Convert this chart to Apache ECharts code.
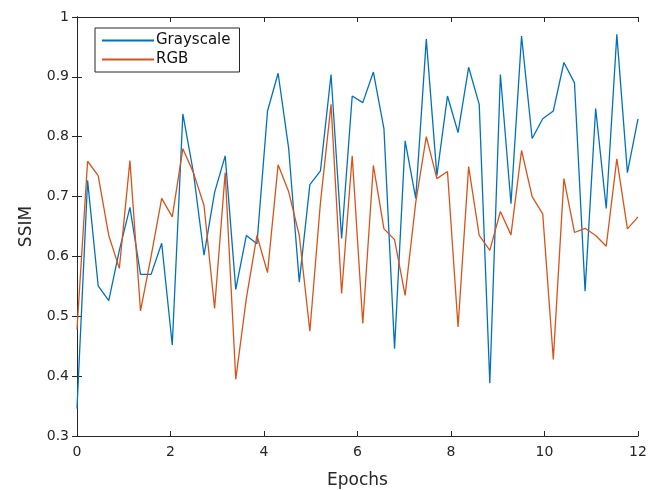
<!DOCTYPE html>
<html>
<head>
<meta charset="utf-8">
<script src="https://cdn.jsdelivr.net/npm/echarts@6/dist/echarts.min.js"></script>
<style>
  html, body { margin: 0; padding: 0; background: #fff; }
  #main { width: 648px; height: 490px; }
</style>
</head>
<body>
<div id="main"></div>
<script>
// 54 samples spread over 12 epochs
var nPoints = 54;
var lastEpoch = 12;

var grayscale = [
    0.346, 0.727, 0.551, 0.526, 0.61, 0.682, 0.57, 0.57, 0.622, 0.452,
    0.838, 0.74, 0.602, 0.707, 0.768, 0.545, 0.635, 0.621, 0.843, 0.906,
    0.78, 0.557, 0.72, 0.743, 0.904, 0.63, 0.868, 0.857, 0.908, 0.813,
    0.446, 0.793, 0.697, 0.963, 0.735, 0.868, 0.807, 0.916, 0.854, 0.388,
    0.904, 0.688, 0.968, 0.797, 0.83, 0.843, 0.924, 0.89, 0.542, 0.847,
    0.68, 0.971, 0.74, 0.83
];
var rgb = [
    0.478, 0.759, 0.735, 0.635, 0.58, 0.76, 0.509, 0.6, 0.697, 0.666,
    0.78, 0.74, 0.685, 0.513, 0.74, 0.395, 0.53, 0.635, 0.573, 0.753,
    0.708, 0.635, 0.475, 0.69, 0.854, 0.538, 0.768, 0.488, 0.752, 0.646,
    0.628, 0.535, 0.69, 0.80, 0.73, 0.742, 0.482, 0.75, 0.635, 0.61,
    0.675, 0.636, 0.777, 0.70, 0.671, 0.428, 0.73, 0.64, 0.647, 0.635,
    0.617, 0.763, 0.646, 0.666
];

var epochs = [];
for (var i = 0; i < nPoints; i++) {
    epochs.push(i * lastEpoch / (nPoints - 1));
}

function pairs(vals) {
    return vals.map(function (v, i) { return [epochs[i], v]; });
}

var axisColor = '#262626';
var font = 'DejaVu Sans';

var myChart = echarts.init(document.getElementById('main'));
var option = {
    animation: false,
    backgroundColor: '#fff',
    textStyle: { fontFamily: font },
    grid: { left: 77, right: 10, top: 17, bottom: 54, outerBoundsMode: 'none' },
    legend: {
        orient: 'vertical',
        left: 95,
        top: 28,
        padding: [5, 9, 5, 7],
        itemGap: 4,
        itemWidth: 52,
        itemHeight: 2,
        icon: 'rect',
        borderColor: axisColor,
        borderWidth: 1,
        backgroundColor: '#fff',
        textStyle: { fontSize: 15, color: '#111', padding: [0, 0, 0, -3] },
        data: ['Grayscale', 'RGB']
    },
    xAxis: [{
        type: 'value',
        min: 0, max: 12, interval: 2,
        name: 'Epochs',
        nameLocation: 'middle',
        nameGap: 36,
        nameTextStyle: { fontSize: 17, color: axisColor },
        axisLine: { lineStyle: { color: axisColor, width: 1 } },
        axisTick: { inside: true, length: 5, lineStyle: { color: axisColor } },
        axisLabel: { fontSize: 14, color: axisColor, margin: 9 },
        splitLine: { show: false }
    }, {
        type: 'value',
        position: 'top',
        min: 0, max: 12, interval: 2,
        axisLine: { show: true, lineStyle: { color: axisColor, width: 1 } },
        axisTick: { inside: true, length: 5, lineStyle: { color: axisColor } },
        axisLabel: { show: false },
        splitLine: { show: false }
    }],
    yAxis: [{
        type: 'value',
        min: 0.3, max: 1, interval: 0.1,
        name: 'SSIM',
        nameLocation: 'middle',
        nameGap: 42,
        nameTextStyle: { fontSize: 17, color: axisColor },
        axisLine: { show: true, lineStyle: { color: axisColor, width: 1 } },
        axisTick: { show: true, inside: true, length: 5, lineStyle: { color: axisColor } },
        axisLabel: {
            fontSize: 14, color: axisColor, margin: 8,
            formatter: function (v) { return String(Math.round(v * 10) / 10); }
        },
        splitLine: { show: false }
    }, {
        type: 'value',
        position: 'right',
        min: 0.3, max: 1, interval: 0.1,
        axisLine: { show: true, lineStyle: { color: axisColor, width: 1 } },
        axisTick: { show: true, inside: true, length: 5, lineStyle: { color: axisColor } },
        axisLabel: { show: false },
        splitLine: { show: false }
    }],
    series: [{
        name: 'Grayscale',
        type: 'line',
        data: pairs(grayscale),
        showSymbol: false,
        color: '#0072BD',
        lineStyle: { width: 1.3 }
    }, {
        name: 'RGB',
        type: 'line',
        data: pairs(rgb),
        showSymbol: false,
        color: '#D95319',
        lineStyle: { width: 1.3 }
    }]
};
myChart.setOption(option);
</script>
</body>
</html>
